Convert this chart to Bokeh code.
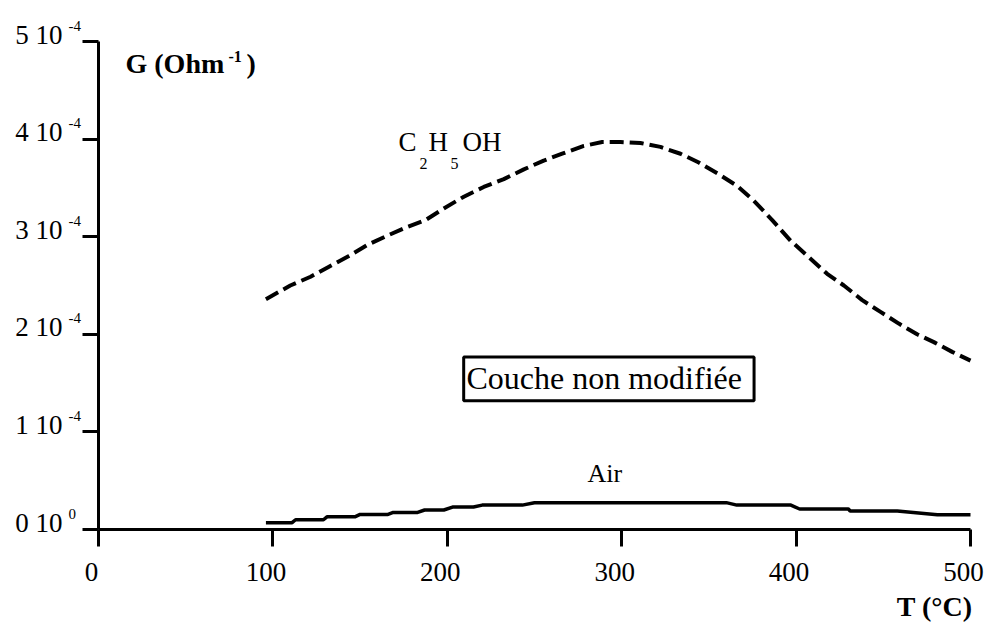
from bokeh.plotting import figure
from bokeh.models import (Range1d, ColumnDataSource, LabelSet, Label,
                          BoxAnnotation, FixedTicker)
from bokeh.embed import file_html
from bokeh.resources import INLINE

# ---- data ----
temp_ethanol = [96, 110, 121.6, 131.9, 143.3, 154.6, 165.5, 177, 187.5, 198,
                209.5, 220.9, 232.4, 243.9, 255.3, 265.9, 278.3, 288.8, 299.3,
                310.8, 322.2, 333.7, 344.2, 355.7, 366.2, 375.7, 386.3, 396.8,
                407.3, 417.8, 427.4, 437.9, 448.4, 458.9, 469.4, 479, 489.5, 500]
g_ethanol = [2.36e-4, 2.50e-4, 2.59e-4, 2.69e-4, 2.80e-4, 2.92e-4, 3.01e-4,
             3.10e-4, 3.17e-4, 3.29e-4, 3.41e-4, 3.51e-4, 3.59e-4, 3.69e-4,
             3.78e-4, 3.85e-4, 3.93e-4, 3.97e-4, 3.97e-4, 3.96e-4, 3.92e-4,
             3.85e-4, 3.76e-4, 3.64e-4, 3.52e-4, 3.37e-4, 3.17e-4, 2.96e-4,
             2.79e-4, 2.62e-4, 2.50e-4, 2.35e-4, 2.23e-4, 2.11e-4, 2.00e-4,
             1.92e-4, 1.82e-4, 1.73e-4]

temp_air = [96, 111, 113, 129, 131, 147, 150, 166, 169, 183, 187, 198, 203,
            215, 220, 243, 250, 360, 366, 397, 402, 430, 431, 458, 481, 500]
g_air = [0.07e-4, 0.07e-4, 0.10e-4, 0.10e-4, 0.13e-4, 0.13e-4, 0.155e-4,
         0.155e-4, 0.175e-4, 0.175e-4, 0.20e-4, 0.20e-4, 0.23e-4, 0.23e-4,
         0.25e-4, 0.25e-4, 0.275e-4, 0.275e-4, 0.25e-4, 0.25e-4, 0.21e-4,
         0.21e-4, 0.19e-4, 0.19e-4, 0.15e-4, 0.15e-4]

x_ticks = [0, 100, 200, 300, 400, 500]
x_tick_labels = ["0", "100", "200", "300", "400", "500"]
y_ticks = [0, 1e-4, 2e-4, 3e-4, 4e-4, 5e-4]
y_tick_mantissa = ["0 10", "1 10", "2 10", "3 10", "4 10", "5 10"]
y_tick_exponent = ["0", "-4", "-4", "-4", "-4", "-4"]

FONT = "Liberation Serif"
BASE = 0.4  # baseline correction for single Labels (fraction of font size)

# frame covers the whole canvas; axes sit at x=0 / y=0 inside it
p = figure(width=987, height=628, x_range=Range1d(-56.19, 509.75),
           y_range=Range1d(-1.0143e-4, 5.4201e-4), output_backend="svg",
           toolbar_location=None, min_border=0)
p.outline_line_color = None
p.grid.visible = False
p.background_fill_color = "white"
p.border_fill_color = "white"

xa = p.xaxis[0]
ya = p.yaxis[0]
xa.fixed_location = 0
ya.fixed_location = 0
xa.bounds = (0, 500)
ya.bounds = (0, 5e-4)
xa.ticker = FixedTicker(ticks=x_ticks)
ya.ticker = FixedTicker(ticks=y_ticks)
for ax, tout in ((xa, 17), (ya, 16)):
    ax.axis_line_width = 3
    ax.axis_line_color = "black"
    ax.major_tick_line_width = 3
    ax.major_tick_line_color = "black"
    ax.major_tick_in = 0
    ax.major_tick_out = tout
    ax.minor_tick_line_color = None
xa.major_label_overrides = {t: "" for t in x_ticks}
ya.major_label_overrides = {t: "" for t in y_ticks}

# curves
p.line(temp_ethanol, g_ethanol, line_width=4, line_dash="14 6", color="black")
p.line(temp_air, g_air, line_width=3.5, color="black")

# tick labels
xsrc = ColumnDataSource(dict(x=x_ticks, y=[0] * len(x_ticks), text=x_tick_labels))
p.add_layout(LabelSet(x="x", y="y", text="text", source=xsrc, x_offset=-7,
                      y_offset=-51, text_align="center",
                      text_baseline="alphabetic", text_font=FONT,
                      text_font_size="27px", text_color="black"))
ysrc = ColumnDataSource(dict(x=[0] * len(y_ticks), y=y_ticks,
                             m=y_tick_mantissa, e=y_tick_exponent))
p.add_layout(LabelSet(x="x", y="y", text="m", source=ysrc, x_offset=-36,
                      y_offset=-2, text_align="right",
                      text_baseline="alphabetic", text_font=FONT,
                      text_font_size="27px", text_color="black"))
p.add_layout(LabelSet(x="x", y="y", text="e", source=ysrc, x_offset=-30,
                      y_offset=11, text_align="left",
                      text_baseline="alphabetic", text_font=FONT,
                      text_font_size="15px", text_color="black"))


def lab(x, y, text, size, dx=0, down=0, bold=False, align="left"):
    p.add_layout(Label(x=x, y=y, text=text, x_offset=dx,
                       y_offset=-down + BASE * size,
                       text_font=FONT, text_font_size=f"{size}px",
                       text_font_style="bold" if bold else "normal",
                       text_align=align, text_baseline="alphabetic",
                       text_color="black"))


# axis titles
lab(0, 5e-4, "G (Ohm", 28, dx=27, down=33, bold=True)
lab(0, 5e-4, "-1", 16, dx=130, down=21, bold=True)
lab(0, 5e-4, ")", 28, dx=148, down=33, bold=True)
lab(500, 0, "T (°C)", 28, dx=2, down=88, bold=True, align="right")

# curve labels
lab(172, 3.863e-4, "C", 27)
lab(172, 3.863e-4, "2", 16, dx=21, down=17)
lab(172, 3.863e-4, "H", 27, dx=30)
lab(172, 3.863e-4, "5", 16, dx=52, down=17)
lab(172, 3.863e-4, "OH", 27, dx=64)
lab(280.4, 0.471e-4, "Air", 26)

# boxed note
p.add_layout(BoxAnnotation(left=209.4, right=375.9, top=1.767e-4,
                           bottom=1.320e-4, fill_color="white", fill_alpha=1,
                           line_color="black", line_width=3, line_alpha=1))
lab(211, 1.424e-4, "Couche non modifiée", 32)

open("out.html", "w").write(file_html(p, INLINE))
